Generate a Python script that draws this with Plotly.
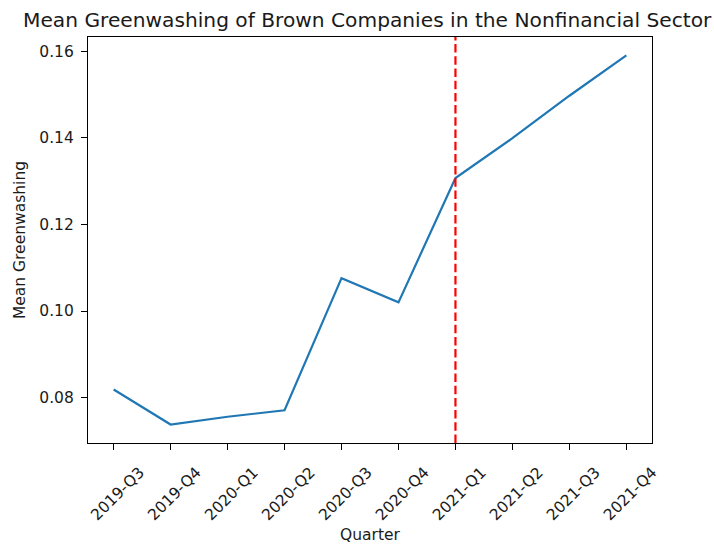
import plotly.graph_objects as go

# Quarterly mean greenwashing score for brown nonfinancial companies
quarters = ["2019-Q3", "2019-Q4", "2020-Q1", "2020-Q2", "2020-Q3",
            "2020-Q4", "2021-Q1", "2021-Q2", "2021-Q3", "2021-Q4"]
mean_greenwashing = [0.0819, 0.0738, 0.0756, 0.0771, 0.1076,
                     0.1020, 0.1307, 0.1399, 0.1497, 0.1590]
event_quarter = "2021-Q1"

y_ticks = [0.08, 0.10, 0.12, 0.14, 0.16]
y_tick_text = ["0.08", "0.10", "0.12", "0.14", "0.16"]

FONT = "DejaVu Sans"
LABEL_SIZE = 15.5
TITLE_SIZE = 20.2
HEIGHT = 545
TEXT_COLOR = "#1a1a1a"

fig = go.Figure()
fig.add_trace(go.Scatter(
    x=list(range(len(quarters))),
    y=mean_greenwashing,
    mode="lines",
    line=dict(color="#1f77b4", width=2.2),
    showlegend=False,
))

# vertical marker at the event quarter
ev = quarters.index(event_quarter)
fig.add_shape(type="line", xref="x", yref="paper", x0=ev, x1=ev, y0=0, y1=1,
              line=dict(color="red", width=2.2, dash="8.5px,3.7px"))

lo, hi = min(mean_greenwashing), max(mean_greenwashing)
pad = (hi - lo) * 0.05

fig.update_layout(
    width=714, height=HEIGHT,
    margin=dict(l=88, r=62, t=37, b=102),
    plot_bgcolor="white", paper_bgcolor="white",
    font=dict(family=FONT, size=LABEL_SIZE, color=TEXT_COLOR),
    title=dict(text="Mean Greenwashing of Brown Companies in the Nonfinancial Sector",
               x=0.495, xref="paper", xanchor="center",
               y=1 - 20 / HEIGHT, yref="container", yanchor="middle",
               font=dict(family=FONT, size=TITLE_SIZE, color=TEXT_COLOR)),
    xaxis=dict(
        range=[-0.45, len(quarters) - 1 + 0.45],
        tickvals=list(range(len(quarters))), ticktext=quarters,
        tickangle=-45, ticklabelshift=26, ticklabelstandoff=7,
        tickfont=dict(size=LABEL_SIZE),
        ticks="outside", ticklen=6, tickwidth=1.2, tickcolor="black",
        showline=True, linecolor="black", linewidth=1.2, mirror=True,
        showgrid=False, zeroline=False, automargin=False,
        title=dict(text="Quarter", standoff=6, font=dict(size=LABEL_SIZE)),
    ),
    yaxis=dict(
        range=[lo - pad, hi + pad],
        tickvals=y_ticks, ticktext=y_tick_text,
        tickfont=dict(size=LABEL_SIZE), ticklabelstandoff=4,
        ticks="outside", ticklen=6, tickwidth=1.2, tickcolor="black",
        showline=True, linecolor="black", linewidth=1.2, mirror=True,
        showgrid=False, zeroline=False, automargin=False,
        title=dict(text="Mean Greenwashing", standoff=9, font=dict(size=LABEL_SIZE)),
    ),
)

fig.write_html("out.html")
